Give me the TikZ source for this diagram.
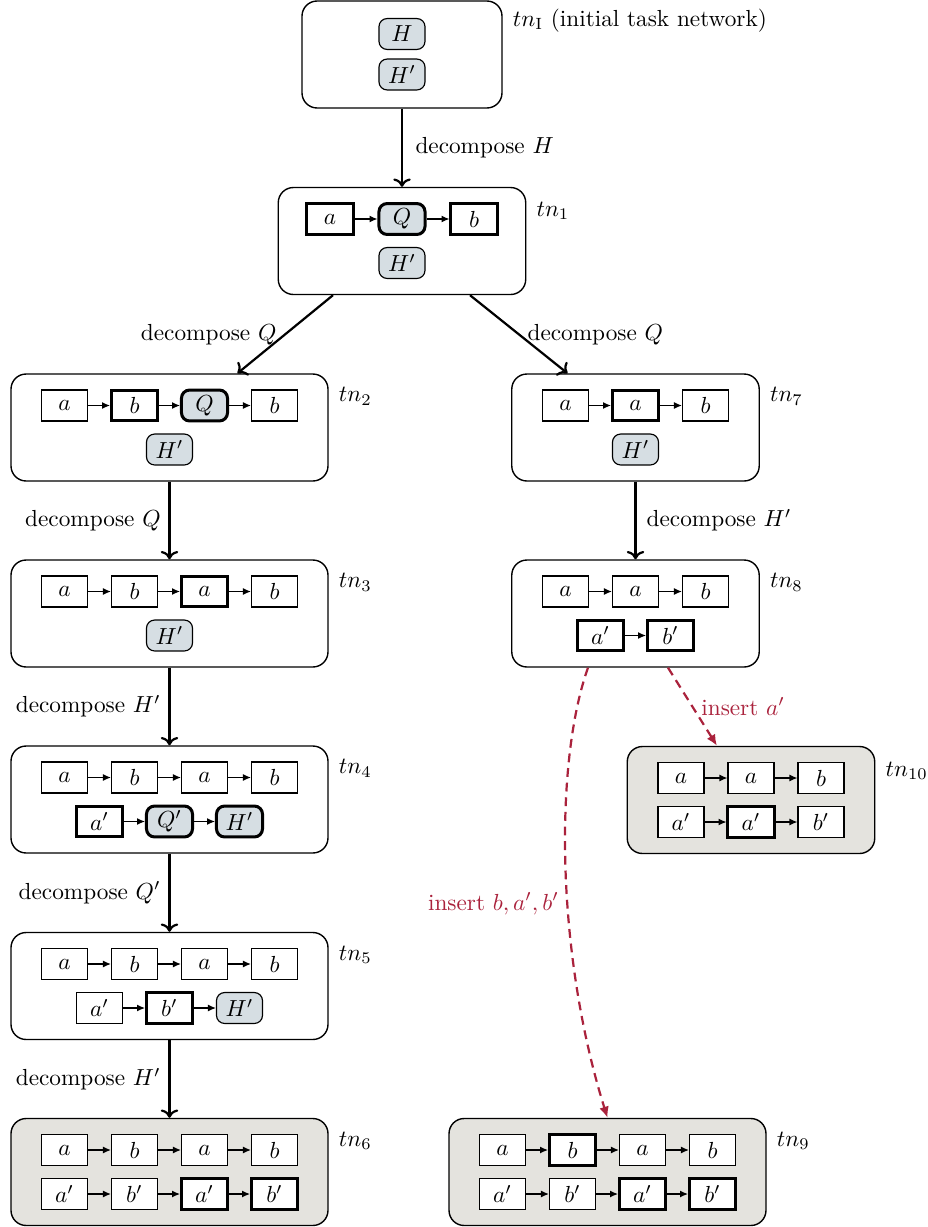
\documentclass[tikz,border=0pt]{standalone}
\usepackage{amsmath}
\usepackage{xcolor}
\usepackage{tikz}
\usetikzlibrary{arrows.meta}

\definecolor{cmpdgray}{RGB}{214,222,227}
\definecolor{donegray}{RGB}{228,227,222}
\definecolor{insred}{RGB}{170,34,60}

\tikzset{
  prim/.style={draw, fill=white, line width=0.5pt, minimum width=19.8pt,
    minimum height=13.3pt, inner sep=0pt},
  cmpd/.style={prim, rounded corners=3.5pt, fill=cmpdgray},
  sel/.style={line width=1.3pt},
  net/.style={draw, fill=white, rounded corners=6.5pt, line width=0.6pt,
    minimum height=46pt, inner sep=0pt},
  netdone/.style={net, fill=donegray},
  w1/.style={minimum width=86pt},
  w3/.style={minimum width=106.4pt},
  w4/.style={minimum width=136.3pt},
  ord/.style={line width=0.5pt, -{Latex[length=3.4pt,width=3pt]}},
  dec/.style={line width=0.95pt, -{To[length=3.6pt,width=7.5pt]}},
  ins/.style={color=insred, line width=0.95pt, dash pattern=on 3.8pt off 2.5pt,
    -{Latex[length=4.8pt,width=4.2pt]}},
  lbl/.style={anchor=west, inner sep=0.75pt},
}

\begin{document}
\begin{tikzpicture}[x=0.43pt,y=0.43pt,yscale=-1]
\useasboundingbox (0,0) rectangle (928,1227);

% task networks (outer boxes)
\node[net,w1] (tnI) at (402,54.5) {};
\node[net,w3] (tn1) at (402,241) {};
\node[net,w4] (tn2) at (169.5,427.5) {};
\node[net,w3] (tn7) at (635.5,427.5) {};
\node[net,w4] (tn3) at (169.5,613.5) {};
\node[net,w3] (tn8) at (635.5,613.5) {};
\node[net,w4] (tn4) at (169.5,799.5) {};
\node[netdone,w3] (tn10) at (751,800) {};
\node[net,w4] (tn5) at (169.5,986) {};
\node[netdone,w4] (tn6) at (169.5,1172) {};
\node[netdone,w4] (tn9) at (607.5,1172) {};

% names of the networks
\node[lbl] (lI) at ([shift={(8,20)}]tnI.north east) {$tn_{\mathrm{I}}$ (initial task network)};
\node[lbl] (l1) at ([shift={(8,24)}]tn1.north east) {$tn_1$};
\node[lbl] (l2) at ([shift={(8,23)}]tn2.north east) {$tn_2$};
\node[lbl] (l7) at ([shift={(8,23)}]tn7.north east) {$tn_7$};
\node[lbl] (l3) at ([shift={(8,23)}]tn3.north east) {$tn_3$};
\node[lbl] (l8) at ([shift={(8,23)}]tn8.north east) {$tn_8$};
\node[lbl] (l4) at ([shift={(8,23)}]tn4.north east) {$tn_4$};
\node[lbl] (l10) at ([shift={(8,25)}]tn10.north east) {$tn_{10}$};
\node[lbl] (l5) at ([shift={(8,23)}]tn5.north east) {$tn_5$};
\node[lbl] (l6) at ([shift={(8,23)}]tn6.north east) {$tn_6$};
\node[lbl] (l9) at ([shift={(8,23)}]tn9.north east) {$tn_9$};

% tnI
\node[cmpd] (tIx1) at (402,34) {$H$};
\node[cmpd] (tIy1) at (402,74.5) {$H'$};

% tn1
\node[prim,sel] (t1x1) at (330,219) {$a$};
\node[cmpd,sel] (t1x2) at (402,219) {$Q$};
\node[prim,sel] (t1x3) at (474,219) {$b$};
\node[cmpd] (t1y1) at (402,263) {$H'$};
\draw[ord] (t1x1) -- (t1x2);
\draw[ord] (t1x2) -- (t1x3);

% tn2
\node[prim] (t2x1) at (64.5,405.5) {$a$};
\node[prim,sel] (t2x2) at (134.5,405.5) {$b$};
\node[cmpd,sel] (t2x3) at (204.5,405.5) {$Q$};
\node[prim] (t2x4) at (274.5,405.5) {$b$};
\node[cmpd] (t2y1) at (169.5,449.5) {$H'$};
\draw[ord] (t2x1) -- (t2x2);
\draw[ord] (t2x2) -- (t2x3);
\draw[ord] (t2x3) -- (t2x4);

% tn7
\node[prim] (t7x1) at (565.5,405.5) {$a$};
\node[prim,sel] (t7x2) at (635.5,405.5) {$a$};
\node[prim] (t7x3) at (705.5,405.5) {$b$};
\node[cmpd] (t7y1) at (635.5,449.5) {$H'$};
\draw[ord] (t7x1) -- (t7x2);
\draw[ord] (t7x2) -- (t7x3);

% tn3
\node[prim] (t3x1) at (64.5,591.5) {$a$};
\node[prim] (t3x2) at (134.5,591.5) {$b$};
\node[prim,sel] (t3x3) at (204.5,591.5) {$a$};
\node[prim] (t3x4) at (274.5,591.5) {$b$};
\node[cmpd] (t3y1) at (169.5,635.5) {$H'$};
\draw[ord] (t3x1) -- (t3x2);
\draw[ord] (t3x2) -- (t3x3);
\draw[ord] (t3x3) -- (t3x4);

% tn8
\node[prim] (t8x1) at (565.5,591.5) {$a$};
\node[prim] (t8x2) at (635.5,591.5) {$a$};
\node[prim] (t8x3) at (705.5,591.5) {$b$};
\node[prim,sel] (t8y1) at (600.5,635.5) {$a'$};
\node[prim,sel] (t8y2) at (670.5,635.5) {$b'$};
\draw[ord] (t8x1) -- (t8x2);
\draw[ord] (t8x2) -- (t8x3);
\draw[ord] (t8y1) -- (t8y2);

% tn4
\node[prim] (t4x1) at (64.5,777.5) {$a$};
\node[prim] (t4x2) at (134.5,777.5) {$b$};
\node[prim] (t4x3) at (204.5,777.5) {$a$};
\node[prim] (t4x4) at (274.5,777.5) {$b$};
\node[prim,sel] (t4y1) at (99.5,821.5) {$a'$};
\node[cmpd,sel] (t4y2) at (169.5,821.5) {$Q'$};
\node[cmpd,sel] (t4y3) at (239.5,821.5) {$H'$};
\draw[ord] (t4x1) -- (t4x2);
\draw[ord] (t4x2) -- (t4x3);
\draw[ord] (t4x3) -- (t4x4);
\draw[ord] (t4y1) -- (t4y2);
\draw[ord] (t4y2) -- (t4y3);

% tn10
\node[prim] (t10x1) at (681,778) {$a$};
\node[prim] (t10x2) at (751,778) {$a$};
\node[prim] (t10x3) at (821,778) {$b$};
\node[prim] (t10y1) at (681,822) {$a'$};
\node[prim,sel] (t10y2) at (751,822) {$a'$};
\node[prim] (t10y3) at (821,822) {$b'$};
\draw[ord] (t10x1) -- (t10x2);
\draw[ord] (t10x2) -- (t10x3);
\draw[ord] (t10y1) -- (t10y2);
\draw[ord] (t10y2) -- (t10y3);

% tn5
\node[prim] (t5x1) at (64.5,964) {$a$};
\node[prim] (t5x2) at (134.5,964) {$b$};
\node[prim] (t5x3) at (204.5,964) {$a$};
\node[prim] (t5x4) at (274.5,964) {$b$};
\node[prim] (t5y1) at (99.5,1008) {$a'$};
\node[prim,sel] (t5y2) at (169.5,1008) {$b'$};
\node[cmpd] (t5y3) at (239.5,1008) {$H'$};
\draw[ord] (t5x1) -- (t5x2);
\draw[ord] (t5x2) -- (t5x3);
\draw[ord] (t5x3) -- (t5x4);
\draw[ord] (t5y1) -- (t5y2);
\draw[ord] (t5y2) -- (t5y3);

% tn6
\node[prim] (t6x1) at (64.5,1150) {$a$};
\node[prim] (t6x2) at (134.5,1150) {$b$};
\node[prim] (t6x3) at (204.5,1150) {$a$};
\node[prim] (t6x4) at (274.5,1150) {$b$};
\node[prim] (t6y1) at (64.5,1194) {$a'$};
\node[prim] (t6y2) at (134.5,1194) {$b'$};
\node[prim,sel] (t6y3) at (204.5,1194) {$a'$};
\node[prim,sel] (t6y4) at (274.5,1194) {$b'$};
\draw[ord] (t6x1) -- (t6x2);
\draw[ord] (t6x2) -- (t6x3);
\draw[ord] (t6x3) -- (t6x4);
\draw[ord] (t6y1) -- (t6y2);
\draw[ord] (t6y2) -- (t6y3);
\draw[ord] (t6y3) -- (t6y4);

% tn9
\node[prim] (t9x1) at (502.5,1150) {$a$};
\node[prim,sel] (t9x2) at (572.5,1150) {$b$};
\node[prim] (t9x3) at (642.5,1150) {$a$};
\node[prim] (t9x4) at (712.5,1150) {$b$};
\node[prim] (t9y1) at (502.5,1194) {$a'$};
\node[prim] (t9y2) at (572.5,1194) {$b'$};
\node[prim,sel] (t9y3) at (642.5,1194) {$a'$};
\node[prim,sel] (t9y4) at (712.5,1194) {$b'$};
\draw[ord] (t9x1) -- (t9x2);
\draw[ord] (t9x2) -- (t9x3);
\draw[ord] (t9x3) -- (t9x4);
\draw[ord] (t9y1) -- (t9y2);
\draw[ord] (t9y2) -- (t9y3);
\draw[ord] (t9y3) -- (t9y4);

% decompositions
\draw[dec] (tnI) -- (tn1) node[midway,right=2pt] {decompose $H$};
\draw[dec] ([shift={(-69,0)}]tn1.south) -- ([shift={(68,0)}]tn2.north)
  node[midway,left] {decompose $Q$};
\draw[dec] ([shift={(68,0)}]tn1.south) -- ([shift={(-68,0)}]tn7.north)
  node[midway,right] {decompose $Q$};
\draw[dec] (tn2) -- (tn3) node[midway,left] {decompose $Q$};
\draw[dec] (tn7) -- (tn8) node[midway,right=1pt] {decompose $H'$};
\draw[dec] (tn3) -- (tn4) node[midway,left] {decompose $H'$};
\draw[dec] (tn4) -- (tn5) node[midway,left] {decompose $Q'$};
\draw[dec] (tn5) -- (tn6) node[midway,left] {decompose $H'$};

% insertions
\draw[ins] ([shift={(32.5,0)}]tn8.south) -- ([shift={(-34,0)}]tn10.north)
  node[midway,right] {insert $a'$};
\draw[ins] ([shift={(-47.5,0)}]tn8.south) .. controls (555,760) and (555,950) .. (tn9.north)
  node[pos=0.58,left] {insert $b, a', b'$};

\end{tikzpicture}
\end{document}
